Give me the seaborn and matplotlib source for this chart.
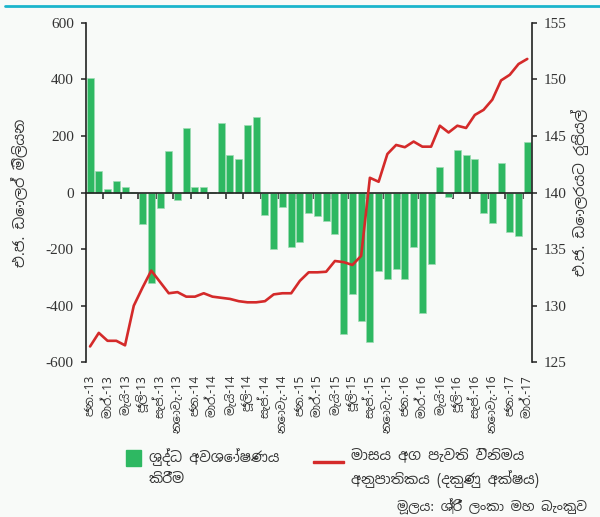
import numpy as np
import pandas as pd
import seaborn as sns
import matplotlib.pyplot as plt
import matplotlib.patches as mpatches
from matplotlib.lines import Line2D
from matplotlib.legend_handler import HandlerPatch
from matplotlib import font_manager

# DATA
month_names = ["ජන.", "පෙබ.", "මාර්.", "අප්‍රේ.", "මැයි", "ජූනි",
               "ජූලි", "අගෝ.", "සැප්.", "ඔක්.", "නොවැ.", "දෙසැ."]
years = ["13", "14", "15", "16", "17"]
months = [f"{m}-{y}" for y in years for m in month_names][:51]

# ශුද්ධ අවශෝෂණය (එ.ජ. ඩොලර් මිලියන)
net_absorption = [405, 75, 12, 40, 18, 3, -112, -318, -56, 147, -27, 228,
                  18, 18, 3, 245, 132, 120, 239, 267, -79, -198, -50, -193,
                  -175, -73, -84, -101, -146, -499, -357, -454, -527, -277,
                  -306, -271, -306, -193, -425, -254, 89, -15, 150, 133, 117,
                  -73, -107, 105, -140, -152, 179]

# මාසය අග විනිමය අනුපාතිකය (රුපියල්)
exchange_rate = [126.4, 127.6, 126.9, 126.9, 126.5, 130.0, 131.6, 133.1,
                 132.1, 131.1, 131.2, 130.8, 130.8, 131.1, 130.8, 130.7,
                 130.6, 130.4, 130.3, 130.3, 130.4, 131.0, 131.1, 131.1,
                 132.2, 132.95, 132.95, 133.0, 133.95, 133.85, 133.6, 134.4,
                 141.3, 140.95, 143.4, 144.2, 144.0, 144.5, 144.05, 144.05,
                 145.9, 145.3, 145.9, 145.7, 146.85, 147.3, 148.2, 149.9,
                 150.4, 151.35, 151.8]

tick_labels = months[::2]

df = pd.DataFrame({"month": months, "absorption": net_absorption,
                   "rate": exchange_rate, "pos": np.arange(len(months))})

# FONTS
sns.set_theme(style="ticks")
sinhala = sorted({f.name for f in font_manager.fontManager.ttflist
                  if "Sinhala" in f.name or "LKLUG" in f.name or "Iskoola" in f.name})
fams = sinhala + ["DejaVu Sans"]
plt.rcParams["font.family"] = fams
num_font = "Liberation Serif"

bg = "#f8faf8"
green = "#2eb862"
red = "#d42a2a"
ink = "#222222"

fig = plt.figure(figsize=(6.0, 5.17), dpi=100, facecolor=bg)
ax = fig.add_axes([0.1428, 0.2992, 0.7433, 0.6569])
ax.set_facecolor(bg)

# BARRAS
sns.barplot(data=df, x="month", y="absorption", order=months, color=green,
            saturation=1, width=0.8, edgecolor="#9edcb4", linewidth=0.5, ax=ax)
ax.set_ylim(-600, 600)
ax.set_xlim(-0.5, len(months) - 0.5)
ax.set_yticks(np.arange(-600, 601, 200))
ax.set_yticklabels([str(v) for v in range(-600, 601, 200)], fontfamily=num_font, fontsize=11)
ax.set_xlabel("")
ax.set_ylabel("එ.ජ. ඩොලර් මිලියන", fontsize=10.5, color="#333333", labelpad=12)

# zero line with boundary ticks
ax.spines["bottom"].set_position(("data", 0))
ax.spines["top"].set_visible(False)
ax.spines["right"].set_visible(False)
for s in ["left", "bottom"]:
    ax.spines[s].set_color(ink)
    ax.spines[s].set_linewidth(1.2)
ax.set_xticks(np.arange(1.5, len(months) - 1, 2))
ax.set_xticklabels([])
ax.tick_params(axis="x", direction="out", length=4.5, width=1.1, color=ink)
ax.tick_params(axis="y", direction="out", length=3.5, width=1.1, color=ink,
               labelcolor="#333333", pad=5)

# month labels at bottom
sec = ax.secondary_xaxis("bottom")
sec.spines["bottom"].set_visible(False)
sec.set_xticks(np.arange(0, len(months), 2))
sec.set_xticklabels(tick_labels, rotation=90, fontsize=8.5, color="#333333")
sec.tick_params(length=0, pad=9)

# LINHA - eixo direito
ax2 = ax.twinx()
sns.lineplot(data=df, x="pos", y="rate", color=red, linewidth=1.9, ax=ax2)
ax2.set_ylim(125, 155)
ax2.set_yticks(np.arange(125, 156, 5))
ax2.set_yticklabels([str(v) for v in range(125, 156, 5)], fontfamily=num_font, fontsize=11)
ax2.set_xlim(-0.5, len(months) - 0.5)
ax2.set_xlabel("")
ax2.set_ylabel("එ.ජ. ඩොලරයට රුපියල්", fontsize=10.5, color="#333333", labelpad=3)
for s in ["top", "left", "bottom"]:
    ax2.spines[s].set_visible(False)
ax2.spines["right"].set_color(ink)
ax2.spines["right"].set_linewidth(1.2)
ax2.tick_params(axis="y", direction="out", length=3.5, width=1.1, color=ink,
                labelcolor="#333333", pad=5)

# top cyan rule
fig.add_artist(Line2D([0.008, 1.0], [0.988, 0.988], color="#1bb5cc", linewidth=2,
                      transform=fig.transFigure))


# LEGENDA (handles aligned with the first text line)
def square(legend, orig_handle, xdescent, ydescent, width, height, fontsize):
    s = height * 1.6
    return mpatches.Rectangle((-xdescent + width - s, -ydescent + height / 2 - s / 2 + 7), s, s)


def dash(legend, orig_handle, xdescent, ydescent, width, height, fontsize):
    t = 1.6
    return mpatches.Rectangle((-xdescent, -ydescent + height / 2 - t / 2 + 5), width, t)


for handle, func, label, x0, hl in [
        (mpatches.Patch(color=green), square, "ශුද්ධ අවශෝෂණය\nකිරීම", 0.172, 2.2),
        (mpatches.Patch(color=red), dash, "මාසය අග පැවති විනිමය\nඅනුපාතිකය (දකුණු අක්ෂය)", 0.51, 2.2)]:
    leg = fig.legend(handles=[handle], labels=[label],
                     handler_map={mpatches.Patch: HandlerPatch(patch_func=func)},
                     loc="upper left", bbox_to_anchor=(x0, 0.147), frameon=False,
                     handlelength=hl, handletextpad=0.5, borderpad=0,
                     prop={"family": fams, "size": 10.2})
    for t in leg.get_texts():
        t.set_linespacing(1.55)
        t.set_color("#333333")

fig.text(0.978, 0.004, "මූලය: ශ්‍රී ලංකා මහ බැංකුව", ha="right", va="bottom",
         fontsize=9.5, color="#333333")

plt.savefig("out.png", dpi=100, facecolor=bg)
